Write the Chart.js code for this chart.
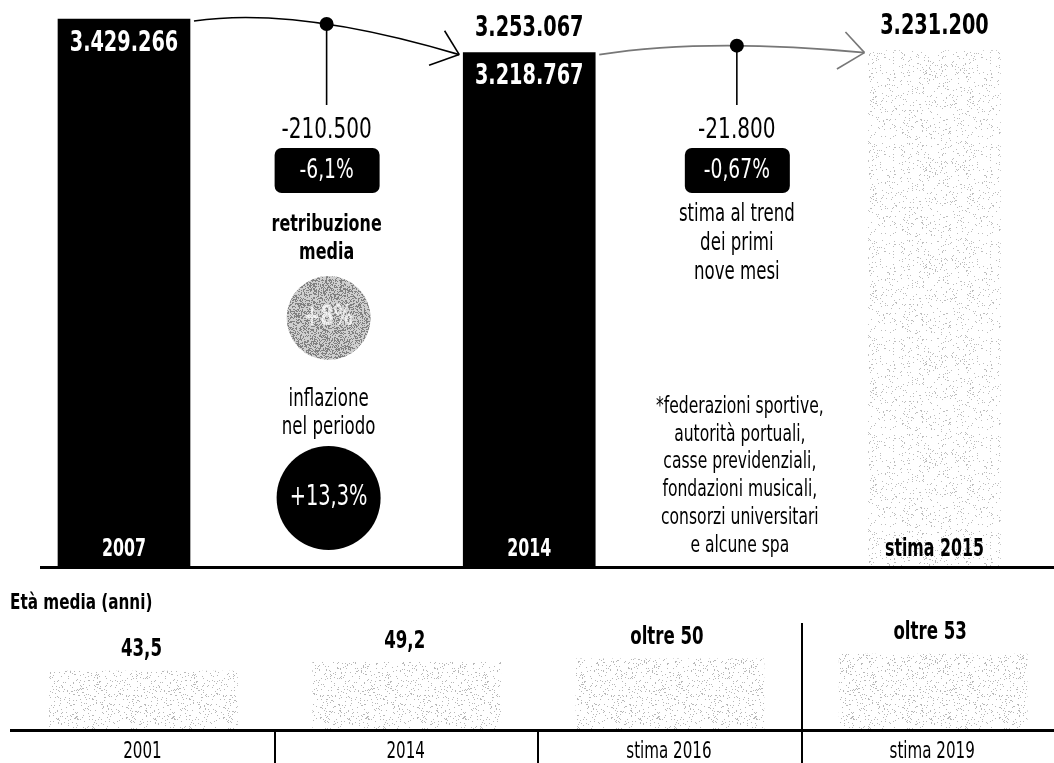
<!DOCTYPE html>
<html lang="it">
<head>
<meta charset="UTF-8" />
<title>Dipendenti pubblici - Età media</title>
<script src="https://cdn.jsdelivr.net/npm/chart.js"></script>
<style>
  html, body { margin: 0; padding: 0; background: #fff; overflow: hidden; }
  .wrap { position: relative; width: 1054px; height: 763px; }
  #topChart { position: absolute; left: 0; top: 0; }
  #ageChart { position: absolute; left: 0; top: 585px; }
</style>
</head>
<body>
<div class="wrap">
  <canvas id="topChart" width="1054" height="600"></canvas>
  <canvas id="ageChart" width="1054" height="178"></canvas>
</div>

<script>
  // --- data: occupati (top chart)
  const years = ['2007', '2014', 'stima 2015'];
  const employees = [3429266, 3218767, 3231200];
  const insideLabels = ['3.429.266', '3.218.767', ''];
  const aboveLabels = ['', '3.253.067', '3.231.200'];
  const changes = ['-210.500', '-21.800'];
  const changePct = ['-6,1%', '-0,67%'];
  const trendNote = ['stima al trend', 'dei primi', 'nove mesi'];
  const footnote = ['*federazioni sportive,', 'autorità portuali,', 'casse previdenziali,',
                    'fondazioni musicali,', 'consorzi universitari', 'e alcune spa'];
  const salaryLabel = ['retribuzione', 'media'];
  const salaryPct = '+8%';
  const inflationLabel = ['inflazione', 'nel periodo'];
  const inflationPct = '+13,3%';

  // --- data: età media (bottom chart)
  const ageTitle = 'Età media (anni)';
  const ageYears = ['2001', '2014', 'stima 2016', 'stima 2019'];
  const ageValues = [43.5, 49.2, 51.5, 54.5];
  const ageLabels = ['43,5', '49,2', 'oltre 50', 'oltre 53'];

  // pick a condensed font if there is one
  function pickFont(list) {
    const c = document.createElement('canvas').getContext('2d');
    c.font = '40px monospace';
    const ref = c.measureText('mmmmwwwiiil').width;
    for (const f of list) {
      c.font = `40px '${f}', monospace`;
      if (c.measureText('mmmmwwwiiil').width !== ref) return f;
    }
    return null;
  }
  const NARROW = pickFont(['Liberation Sans Narrow', 'DejaVu Sans Condensed']);
  const FAMILY = NARROW ? `'${NARROW}'` : 'Roboto';
  const SQUEEZE = NARROW === 'Liberation Sans Narrow' ? 0.95 : (NARROW ? 0.77 : 0.7);

  function label(ctx, s, x, y, size, opts = {}) {
    ctx.save();
    ctx.font = `${opts.bold ? 'bold ' : ''}${size}px ${FAMILY}, sans-serif`;
    ctx.fillStyle = opts.color || '#000';
    ctx.textAlign = opts.align || 'center';
    ctx.textBaseline = 'middle';
    ctx.translate(x, y);
    ctx.scale(SQUEEZE * (opts.sq || 1), 1);
    ctx.fillText(s, 0, 0);
    ctx.restore();
  }

  // grainy fill like the print texture
  function stipple(ctx, bg, dot, density) {
    const c = document.createElement('canvas');
    c.width = 97; c.height = 97;
    const g = c.getContext('2d');
    g.fillStyle = bg; g.fillRect(0, 0, 97, 97);
    g.fillStyle = dot;
    for (let yy = 0; yy < 97; yy++) {
      for (let xx = 0; xx < 97; xx++) {
        const h = Math.sin(xx * 12.9898 + yy * 78.233) * 43758.5453;
        if (h - Math.floor(h) < density) g.fillRect(xx, yy, 1, 1);
      }
    }
    return ctx.createPattern(c, 'repeat');
  }

  function curvedArrow(ctx, x0, y0, x1, y1, midX, color) {
    const cx = midX - 30, cy = Math.min(y0, y1) - 15;
    ctx.save();
    ctx.strokeStyle = color;
    ctx.lineWidth = 1.6;
    ctx.beginPath();
    ctx.moveTo(x0, y0);
    ctx.quadraticCurveTo(cx, cy, x1, y1);
    ctx.stroke();
    const back = Math.atan2(y1 - cy, x1 - cx) + Math.PI;
    [[0.73, 28], [-0.63, 32]].forEach(([d, len]) => {
      ctx.beginPath();
      ctx.moveTo(x1, y1);
      ctx.lineTo(x1 + len * Math.cos(back + d), y1 + len * Math.sin(back + d));
      ctx.stroke();
    });
    ctx.restore();
    // point of the curve above midX
    const bx = t => (1 - t) * (1 - t) * x0 + 2 * t * (1 - t) * cx + t * t * x1;
    const by = t => (1 - t) * (1 - t) * y0 + 2 * t * (1 - t) * cy + t * t * y1;
    let lo = 0, hi = 1;
    for (let k = 0; k < 30; k++) {
      const t = (lo + hi) / 2;
      if (bx(t) < midX) lo = t; else hi = t;
    }
    return { x: midX, y: by(lo) };
  }

  function roundBox(ctx, x, y, w, h, r) {
    ctx.beginPath();
    ctx.roundRect(x, y, w, h, r);
    ctx.fill();
  }

  const topCanvas = document.getElementById('topChart');
  const topCtx = topCanvas.getContext('2d');
  const lightGrain = stipple(topCtx, '#ffffff', '#bdbdbd', 0.06);
  const darkGrain = stipple(topCtx, '#cfcfcf', '#808080', 0.42);

  const topDecor = {
    id: 'topDecor',
    afterDatasetsDraw(chart) {
      const { ctx, scales: { y } } = chart;
      const bars = chart.getDatasetMeta(0).data.map(b => b.getProps(['x', 'y', 'width'], true));
      const base = y.getPixelForValue(0);

      ctx.save();
      ctx.fillStyle = '#000';
      ctx.fillRect(40, base - 1, chart.width - 40, 3);

      bars.forEach((b, i) => {
        const light = i < 2;
        if (insideLabels[i]) label(ctx, insideLabels[i], b.x, b.y + 24, 29, { bold: true, color: '#fff', sq: 0.96 });
        if (aboveLabels[i]) label(ctx, aboveLabels[i], b.x, b.y - 24, 29, { bold: true, sq: 0.96 });
        label(ctx, years[i], b.x, base - 17, 24, { bold: true, color: light ? '#fff' : '#000', sq: 0.95 });
      });

      // arrows + change notes between bars
      for (let i = 0; i < bars.length - 1; i++) {
        const a = bars[i], n = bars[i + 1];
        const midX = (a.x + n.x) / 2 + (i === 1 ? 5 : 0);
        const p = curvedArrow(ctx, a.x + a.width / 2 + 4, a.y + 2, n.x - n.width / 2 - 4, n.y + 2,
                              midX, i === 0 ? '#000' : '#777');
        ctx.strokeStyle = '#000';
        ctx.lineWidth = 1.6;
        ctx.beginPath();
        ctx.moveTo(p.x, p.y);
        ctx.lineTo(p.x, 105);
        ctx.stroke();
        ctx.fillStyle = '#000';
        ctx.beginPath();
        ctx.arc(p.x, p.y, 7, 0, Math.PI * 2);
        ctx.fill();

        label(ctx, changes[i], midX, 130, 29);
        ctx.fillStyle = '#000';
        roundBox(ctx, midX - 52, 148, 105, 45, 7);
        label(ctx, changePct[i], midX, 171, 27, { color: '#fff' });

        if (i === 0) {
          salaryLabel.forEach((s, k) => label(ctx, s, midX, 225 + k * 28, 23, { bold: true }));
          ctx.fillStyle = darkGrain;
          ctx.beginPath();
          ctx.arc(midX + 2, 318, 42, 0, Math.PI * 2);
          ctx.fill();
          label(ctx, salaryPct, midX + 2, 318, 28, { bold: true, color: 'rgba(255,255,255,0.7)' });
          inflationLabel.forEach((s, k) => label(ctx, s, midX + 2, 400 + k * 28, 24));
          ctx.fillStyle = '#000';
          ctx.beginPath();
          ctx.arc(midX + 2, 498, 52, 0, Math.PI * 2);
          ctx.fill();
          label(ctx, inflationPct, midX + 2, 498, 28, { color: '#fff' });
        } else {
          trendNote.forEach((s, k) => label(ctx, s, midX, 215 + k * 29, 24));
          footnote.forEach((s, k) => label(ctx, s, midX + 3, 407 + k * 27.8, 22.5));
        }
      }
      ctx.restore();
    }
  };

  new Chart(topCtx, {
    type: 'bar',
    data: {
      datasets: [{
        data: years.map((_, i) => ({ x: i, y: employees[i] })),
        backgroundColor: ['#000', '#000', lightGrain],
        borderWidth: 0,
        barThickness: 132
      }]
    },
    options: {
      responsive: false,
      animation: false,
      devicePixelRatio: 1,
      layout: { padding: { top: 0, right: 0, bottom: 33, left: 0 } },
      plugins: { legend: { display: false }, tooltip: { enabled: false } },
      scales: {
        x: { type: 'linear', display: false, offset: false, min: -0.306, max: 2.295 },
        y: { display: false, min: 0, max: 3548000 }
      }
    },
    plugins: [topDecor]
  });

  const ageCanvas = document.getElementById('ageChart');
  const ageCtx = ageCanvas.getContext('2d');
  const ageGrain = stipple(ageCtx, '#ffffff', '#b8b8b8', 0.08);

  const ageDecor = {
    id: 'ageDecor',
    afterDatasetsDraw(chart) {
      const { ctx, scales: { x, y } } = chart;
      const bars = chart.getDatasetMeta(0).data.map(b => b.getProps(['x', 'y'], true));
      const base = y.getPixelForValue(y.min);
      ctx.save();
      label(ctx, ageTitle, 10, 18, 22, { bold: true, align: 'left' });
      ctx.fillStyle = '#000';
      ctx.fillRect(10, base - 1, chart.width - 10, 3);
      for (let i = 0; i < ageYears.length - 1; i++) {
        const dx = Math.round(x.getPixelForValue(i + 0.5));
        const top = i === ageYears.length - 2 ? 38 : base;
        ctx.fillRect(dx - 1, top, 2, chart.height - top);
      }
      bars.forEach((b, i) => {
        label(ctx, ageLabels[i], b.x - (i > 1 ? 3 : 2), b.y - 21, 24, { bold: true });
        label(ctx, ageYears[i], b.x - 1, base + 22, 23, { sq: 0.95 });
      });
      ctx.restore();
    }
  };

  new Chart(ageCtx, {
    type: 'bar',
    data: {
      datasets: [{
        data: ageYears.map((_, i) => ({ x: i, y: ageValues[i] })),
        backgroundColor: ageGrain,
        borderWidth: 0,
        barThickness: 188
      }]
    },
    options: {
      responsive: false,
      animation: false,
      devicePixelRatio: 1,
      layout: { padding: { top: 0, right: 0, bottom: 33, left: 0 } },
      plugins: { legend: { display: false }, tooltip: { enabled: false } },
      scales: {
        x: { type: 'linear', display: false, offset: false, min: -0.545, max: 3.459 },
        y: { display: false, min: 5, max: 99.65 }
      }
    },
    plugins: [ageDecor]
  });
</script>
</body>
</html>
